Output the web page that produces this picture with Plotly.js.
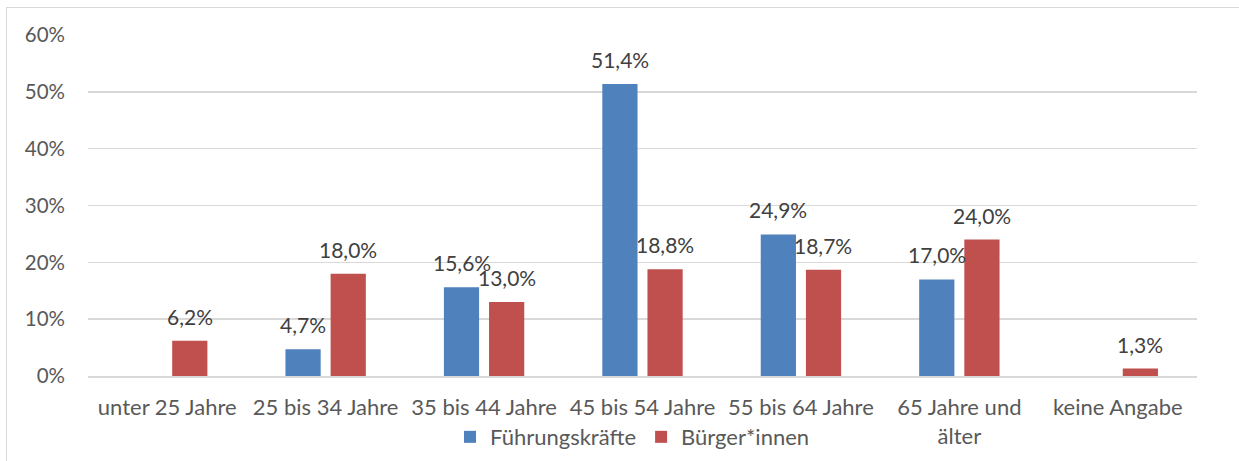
<!DOCTYPE html>
<html>
<head>
<meta charset="utf-8">
<script src="https://cdn.plot.ly/plotly-3.0.1.min.js"></script>
<style>
html,body{margin:0;padding:0;background:#fff;overflow:hidden;width:1239px;height:461px;}
#frame{position:absolute;left:6px;top:7px;width:1300px;height:600px;border:1.5px solid #d9d9d9;box-sizing:border-box;}
#chart{position:absolute;left:0;top:0;width:1239px;height:461px;}
</style>
</head>
<body>
<div id="frame"></div>
<div id="chart"></div>
<script>
const categories = ["unter 25 Jahre","25 bis 34 Jahre","35 bis 44 Jahre","45 bis 54 Jahre","55 bis 64 Jahre","65 Jahre und<br>älter","keine Angabe"];
const fuehrungskraefte = [null, 4.7, 15.6, 51.4, 24.9, 17.0, null];
const buergerinnen = [6.2, 18.0, 13.0, 18.8, 18.7, 24.0, 1.3];
const seriesNames = ["Führungskräfte","Bürger*innen"];
const yTicks = [0,10,20,30,40,50,60];
const yTickLabels = ["0%","10%","20%","30%","40%","50%","60%"];

const colors = ["#4F81BD","#C0504D"];
const labelColor = "#404040";
const tickColor = "#595959";
const font = "Lato, 'Open Sans', sans-serif";

const traces = [fuehrungskraefte, buergerinnen].map((vals,i)=>({
  type:"bar", name:seriesNames[i], x:categories, y:vals,
  marker:{color:colors[i]}, hoverinfo:"skip"
}));

const annotations = [];
[fuehrungskraefte, buergerinnen].forEach((vals,i)=>{
  vals.forEach((v,j)=>{
    if(v===null) return;
    annotations.push({
      x:categories[j], y:v, xref:"x", yref:"y",
      text:v.toFixed(1).replace(".",",")+"%",
      showarrow:false, yanchor:"bottom",
      xshift:(i===0?-22.5:22.5), yshift:10,
      font:{family:font,size:21,color:labelColor}
    });
  });
});

const layout = {
  width:1239, height:461,
  margin:{l:88,r:42,t:35,b:85},
  paper_bgcolor:"rgba(0,0,0,0)", plot_bgcolor:"rgba(0,0,0,0)",
  barmode:"group", bargap:0.43, bargroupgap:0.22,
  font:{family:font,size:22,color:tickColor},
  xaxis:{type:"category", automargin:false, showgrid:false, showline:true, linecolor:"#d9d9d9", linewidth:1.5,
    ticks:"", ticklabelstandoff:11, tickfont:{family:font,size:22,color:tickColor}, fixedrange:true},
  yaxis:{range:[0,60], automargin:false, tickvals:yTicks, ticktext:yTickLabels, showgrid:true, gridcolor:"#d9d9d9", gridwidth:1.5,
    zeroline:false, showline:false, ticks:"", ticklabelstandoff:22,
    tickfont:{family:font,size:20.5,color:tickColor}, fixedrange:true},
  showlegend:true,
  legend:{orientation:"h", x:0.491, xanchor:"center", yref:"container", y:0.052, yanchor:"middle",
    font:{family:font,size:22,color:tickColor}, itemwidth:30, traceorder:"normal"},
  annotations:annotations
};

Plotly.newPlot("chart", traces, layout, {displayModeBar:false, staticPlot:true});
</script>
</body>
</html>
